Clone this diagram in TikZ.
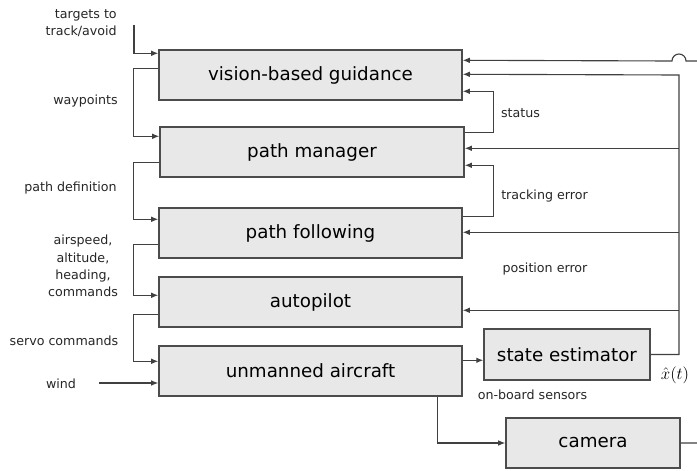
\documentclass[tikz,border=0pt]{standalone}
\usepackage{amsmath,amssymb}
\usepackage[no-math]{fontspec}
\setmainfont{DejaVu Sans}
\usetikzlibrary{calc,arrows.meta}

\begin{document}
\begin{tikzpicture}[x=0.025cm,y=-0.025cm,
    blk/.style={draw=black!70,fill=black!9,line width=1pt,minimum width=7.575cm,
      minimum height=1.25cm,inner sep=0pt,font=\fontsize{13}{15}\selectfont},
    lbl/.style={inner sep=0pt,text=black!85,font=\fontsize{9}{12.3}\selectfont},
    wire/.style={draw=black!75,line width=0.8pt},
    conn/.style={wire,-{Latex[length=5pt,width=4pt]}}]
  \useasboundingbox (0,0) rectangle (697,471);

  % blocks
  \node[blk] (guide) at (310.5,75) {vision-based guidance};
  \node[blk,minimum width=7.6cm] (mgr) at (312,152) {path manager};
  \node[blk] (follow) at (310.5,233) {path following};
  \node[blk] (auto) at (310.5,302) {autopilot};
  \node[blk] (uav) at (310.5,371) {unmanned aircraft};
  \node[blk,minimum width=4.15cm,minimum height=1.275cm] (est) at (567,354.5) {state estimator};
  \node[blk,minimum width=4.35cm] (cam) at (593,443) {camera};

  % labels
  \node[lbl,align=right,anchor=east] (tgt) at (117,23.5) {targets to\\track/avoid};
  \node[lbl] (wp) at (85.5,101) {waypoints};
  \node[lbl] (pdef) at (70.5,188) {path definition};
  \node[lbl,align=center] (cmds) at (83,266) {airspeed,\\altitude,\\heading,\\commands};
  \node[lbl] (servo) at (64,341) {servo commands};
  \node[lbl] (wind) at (61,384) {wind};
  \node[lbl] (stat) at (520.5,113) {status};
  \node[lbl] (trk) at (544.5,196) {tracking error};
  \node[lbl] (pos) at (545,269) {position error};
  \node[lbl] (sens) at (532.5,395) {on-board sensors};
  \node[inner sep=0pt,font=\fontsize{13}{15}\selectfont] (xhat) at (675,375) {$\hat{x}(t)$};

  % free ends and taps
  \coordinate (tgtend) at (134,25);
  \coordinate (windend) at (99,383);
  \coordinate (rtop) at (679,75);
  \coordinate (mgrin) at ($(mgr.north east)+(0,22)$);
  \coordinate (followin) at ($(follow.north east)+(0,25)$);
  \coordinate (autoin) at ($(auto.north east)+(0,34)$);
  \coordinate (sensout) at ($(uav.north east)+(0,15)$);

  % commands down the left side
  \draw[conn] (tgtend) |- ($(guide.north west)+(0,4)$);
  \draw[conn] ($(guide.north west)+(0,19)$) -- ++(-25,0) |- ($(mgr.north west)+(0,10)$);
  \draw[conn] ($(mgr.north west)+(0,36)$) -- ++(-26,0) |- ($(follow.north west)+(0,12)$);
  \draw[conn] ($(follow.north west)+(0,37)$) -- ++(-25,0) |- ($(auto.north west)+(0,19)$);
  \draw[conn] ($(auto.north west)+(0,38)$) -- ++(-25,0) |- ($(uav.north west)+(0,16)$);
  \draw[conn] (windend) -- (windend -| uav.west);

  % status and tracking error
  \draw[conn] ($(mgr.north east)+(0,6)$) -- ++(29,0) |- ($(guide.north east)+(0,42)$);
  \draw[conn] ($(follow.north east)+(0,9)$) -- ++(31,0) |- ($(mgr.north east)+(0,39)$);

  % state feedback
  \draw[conn] (est.east) -| (rtop) -- ($(guide.north east)+(0,25)$);
  \draw[conn] (mgrin -| rtop) -- (mgrin);
  \draw[conn] (followin -| rtop) -- (followin);
  \draw[conn] (autoin -| rtop) -- (autoin);

  % sensors and camera
  \draw[conn] (sensout) -- (sensout -| est.west);
  \draw[conn] ($(uav.south west)+(279,0)$) |- (cam.west);
  \draw[conn] (cam.east) -- ++(40,0) |- (686,61)
    arc[start angle=0,end angle=180,radius=0.175cm] -- ($(guide.north east)+(0,11)$);
\end{tikzpicture}
\end{document}
